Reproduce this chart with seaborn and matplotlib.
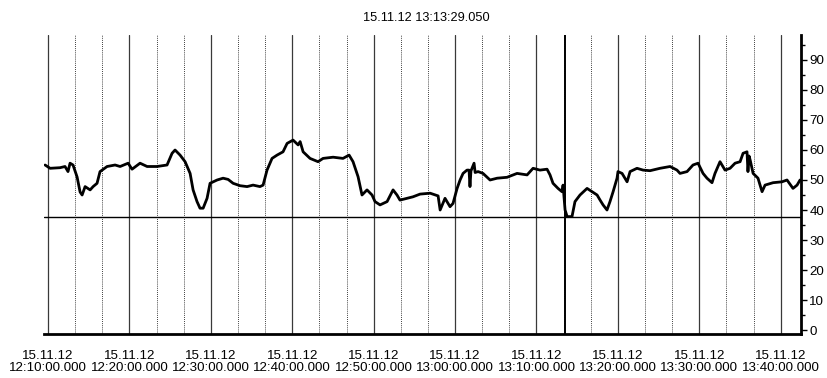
import matplotlib
matplotlib.use("Agg")
import matplotlib.pyplot as plt
from matplotlib.ticker import MultipleLocator, FuncFormatter
import seaborn as sns
import pandas as pd

# Measurement trace, 15.11.12
times = [
    "12:09:38", "12:10:15", "12:11:28", "12:12:05", "12:12:27", "12:12:42", "12:13:04",
    "12:13:34", "12:13:56", "12:14:11", "12:14:33", "12:15:10", "12:15:32", "12:16:01",
    "12:16:23", "12:17:15", "12:18:14", "12:18:51", "12:19:50", "12:20:19", "12:21:18",
    "12:22:10", "12:23:23", "12:24:37", "12:25:14", "12:25:36", "12:26:13", "12:26:50",
    "12:27:27", "12:27:49", "12:28:18", "12:28:40", "12:29:03", "12:29:32", "12:29:54",
    "12:30:46", "12:31:30", "12:32:07", "12:32:44", "12:33:35", "12:34:27", "12:35:11",
    "12:36:02", "12:36:25", "12:36:54", "12:37:31", "12:38:08", "12:38:52", "12:39:22",
    "12:40:06", "12:40:43", "12:40:58", "12:41:20", "12:42:11", "12:43:10", "12:43:47",
    "12:45:01", "12:46:14", "12:46:59", "12:47:28", "12:48:05", "12:48:34", "12:49:11",
    "12:49:48", "12:50:10", "12:50:47", "12:51:39", "12:52:23", "12:52:52", "12:53:14",
    "12:54:06", "12:54:50", "12:55:42", "12:56:56", "12:57:55", "12:58:10", "12:58:46",
    "12:59:23", "12:59:45", "13:00:15", "13:00:37", "13:00:59", "13:01:28", "13:01:43",
    "13:01:50", "13:01:57", "13:02:20", "13:02:28", "13:02:50", "13:03:26", "13:04:18",
    "13:05:10", "13:06:23", "13:07:37", "13:08:51", "13:09:35", "13:10:26", "13:11:18",
    "13:11:40", "13:12:02", "13:12:39", "13:13:08", "13:13:16", "13:13:31", "13:13:46",
    "13:14:22", "13:14:44", "13:15:21", "13:16:13", "13:16:50", "13:17:27", "13:17:49",
    "13:18:11", "13:18:40", "13:19:02", "13:19:25", "13:19:54", "13:20:01", "13:20:31",
    "13:21:08", "13:21:30", "13:22:21", "13:23:06", "13:23:57", "13:25:11", "13:26:25",
    "13:27:16", "13:27:38", "13:28:30", "13:29:14", "13:29:51", "13:30:28", "13:30:57",
    "13:31:34", "13:31:56", "13:32:33", "13:33:10", "13:33:47", "13:34:24", "13:35:01",
    "13:35:23", "13:35:52", "13:35:59", "13:36:07", "13:36:15", "13:36:37", "13:37:13",
    "13:37:43", "13:38:05", "13:39:04", "13:40:10", "13:40:47", "13:41:31", "13:42:01",
    "13:42:23",
]
values = [
    55.0, 53.9, 54.1, 54.5, 52.8, 55.6, 55.0,
    51.0, 46.0, 45.0, 47.8, 46.7, 47.8, 48.9,
    52.8, 54.5, 55.0, 54.5, 55.6, 53.6, 55.6,
    54.5, 54.5, 55.0, 58.9, 60.0, 58.3, 56.1,
    52.2, 46.7, 42.8, 40.6, 40.6, 43.9, 48.9,
    50.0, 50.6, 50.2, 48.9, 48.1, 47.8, 48.3,
    47.8, 48.3, 53.3, 57.2, 58.3, 59.4, 62.2,
    63.3, 61.7, 62.8, 59.4, 57.2, 56.1, 57.2,
    57.6, 57.2, 58.3, 56.1, 51.1, 45.0, 46.7,
    45.0, 42.8, 41.7, 42.8, 46.7, 45.0, 43.3,
    43.9, 44.4, 45.3, 45.6, 44.7, 40.0, 43.9,
    41.1, 42.2, 47.2, 50.0, 52.2, 53.3, 53.3,
    47.8, 53.0, 55.6, 52.5, 52.8, 52.2, 50.0,
    50.6, 50.9, 52.2, 51.7, 53.9, 53.3, 53.6,
    51.7, 48.9, 47.2, 46.1, 48.3, 40.0, 37.8,
    37.8, 42.8, 45.0, 47.2, 46.1, 45.0, 43.3,
    41.7, 40.0, 42.8, 46.1, 50.6, 52.8, 52.2,
    49.4, 52.8, 53.9, 53.3, 53.1, 53.9, 54.5,
    53.3, 52.2, 52.8, 55.0, 55.6, 52.2, 50.6,
    49.1, 52.2, 56.1, 53.3, 53.9, 55.6, 56.1,
    58.9, 59.4, 52.8, 58.0, 56.7, 52.2, 50.6,
    46.1, 48.3, 49.1, 49.4, 50.0, 47.2, 48.3,
    50.0,
]

date_label = "15.11.12"
cursor_time = "13:13:29.050"
cursor_level = 37.8
x_start, x_end = "12:09:30", "13:42:30"
y_min, y_max = -1.33, 98.33


def to_minutes(hms):
    h, m, s = hms.split(":")
    return int(h) * 60 + int(m) + float(s) / 60.0


df = pd.DataFrame({"t": [to_minutes(t) for t in times], "value": values})

sns.set_theme(style="white")
plt.rcParams["font.family"] = ["Liberation Sans", "DejaVu Sans"]

fig = plt.figure(figsize=(8.27, 3.78), dpi=100)
ax = fig.add_axes([44 / 827, 1 - 334 / 378, (801 - 44) / 827, (334 - 35) / 378])

sns.lineplot(data=df, x="t", y="value", ax=ax, color="black", lw=2.0,
             zorder=5, estimator=None, sort=False)

ax.set_xlim(to_minutes(x_start), to_minutes(x_end))
ax.set_ylim(y_min, y_max)

# time axis: labelled every 10 minutes, dotted helpers every 3:20
ax.xaxis.set_major_locator(MultipleLocator(10))
ax.xaxis.set_minor_locator(MultipleLocator(10 / 3))


def fmt_time(v, pos):
    total = int(round(v))
    return f"{date_label}\n{total // 60:02d}:{total % 60:02d}:00.000"


ax.xaxis.set_major_formatter(FuncFormatter(fmt_time))
ax.grid(which="major", axis="x", color="#3a3a3a", lw=0.9, zorder=1)
ax.grid(which="minor", axis="x", color="black", lw=0.6, ls=(0, (1, 1.5)), zorder=1)
ax.grid(which="major", axis="y", visible=False)

# value axis on the right
ax.yaxis.tick_right()
ax.yaxis.set_major_locator(MultipleLocator(10))
ax.yaxis.set_minor_locator(MultipleLocator(5))
ax.set_xlabel("")
ax.set_ylabel("")

for side in ("left", "top"):
    ax.spines[side].set_visible(False)
for side in ("right", "bottom"):
    ax.spines[side].set_linewidth(2)
    ax.spines[side].set_color("black")

ax.tick_params(axis="x", which="major", direction="out", length=7.5, width=1,
               color="black", labelsize=9.6, pad=4, labelcolor="black")
ax.tick_params(axis="x", which="minor", direction="out", length=3, width=1,
               color="black")
ax.tick_params(axis="y", which="major", direction="out", length=4, width=1,
               color="black", labelsize=9.6, pad=2, labelcolor="black",
               right=True, left=False)
ax.tick_params(axis="y", which="minor", direction="out", length=3, width=1,
               color="black", right=True, left=False)
for lbl in ax.get_xticklabels():
    lbl.set_linespacing(1.05)

# cursor lines
ax.axhline(cursor_level, color="black", lw=1, zorder=4)
ax.axvline(to_minutes(cursor_time), color="black", lw=1.4, zorder=4)

fig.text(426 / 827, 1 - 18 / 378, f"{date_label} {cursor_time}", ha="center",
         va="center", fontsize=9.2, color="black")

fig.savefig("out.png", dpi=100, facecolor="white")
